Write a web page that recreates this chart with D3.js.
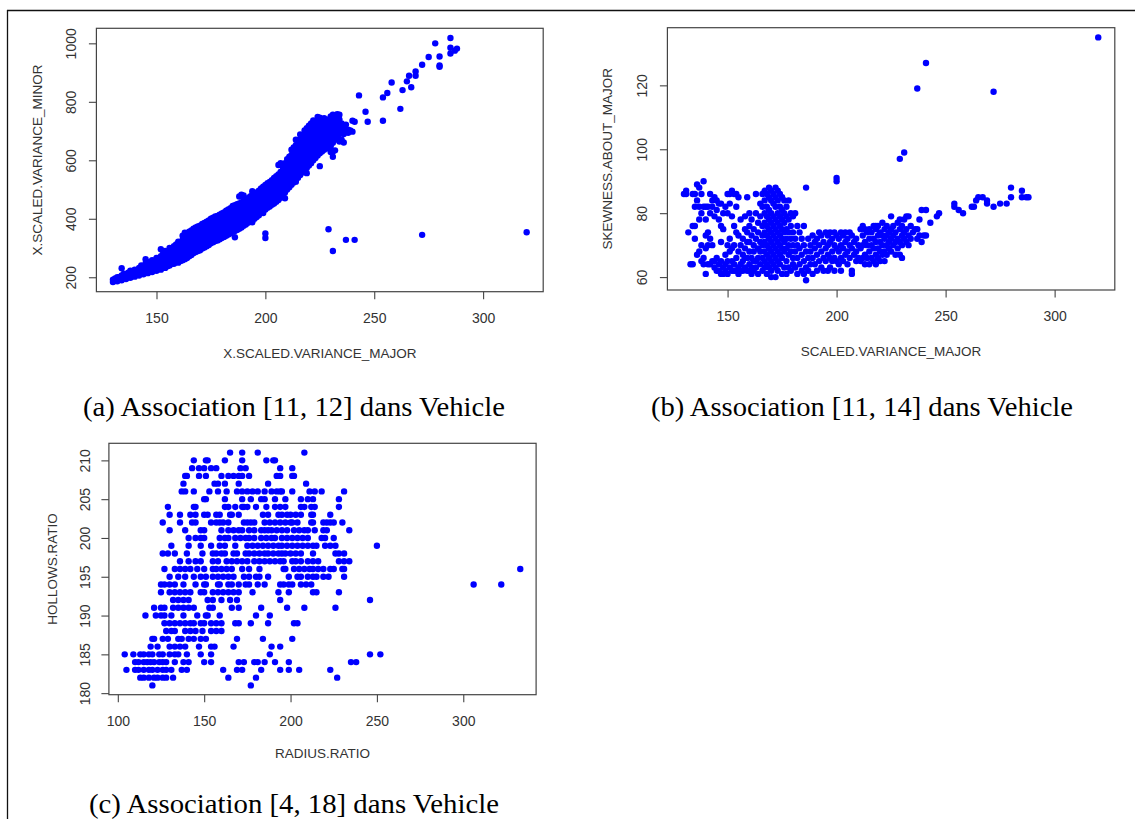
<!DOCTYPE html>
<html>
<head>
<meta charset="utf-8">
<script src="https://cdn.jsdelivr.net/npm/d3@7"></script>
<style>
  body { margin: 0; background: #fff; }
  .axis text { font-family: "Liberation Sans", Arial, sans-serif; font-size: 14px; fill: #333; }
  .axis line { stroke: #444; stroke-width: 1.1; }
  .axis path { display: none; }
  .lab { font-family: "Liberation Sans", Arial, sans-serif; font-size: 13.5px; fill: #333; }
  .cap { font-family: "Liberation Serif", "Times New Roman", serif; font-size: 27px; fill: #000; }
</style>
</head>
<body>
<svg id="fig" width="1135" height="819"></svg>
<script>
// ---- data ----
// (a) X.SCALED.VARIANCE_MAJOR -> list of X.SCALED.VARIANCE_MINOR
var majorMinor = [
  [130,[184,192]],[131,[188,196]],[132,[186,194,200]],[133,[192,200]],[134,[190,198,206,231]],
  [135,[196,204,212]],[136,[194,202,210]],[137,[200,208,216]],[138,[198,206,214,222]],[139,[204,212,220]],
  [140,[202,210,218,226]],[141,[208,216,224]],[142,[206,214,222,232]],[143,[212,220,230,240]],
  [144,[210,218,228,238]],[145,[216,226,236,248,262]],[146,[214,224,234,244]],[147,[220,230,240,252]],
  [148,[218,228,238,248,258]],[149,[224,234,244,256]],[150,[222,232,242,254,266]],[151,[228,238,250,262]],
  [152,[226,236,248,260,272,296]],[153,[232,244,256,268,280]],[154,[232,242,254,266,278,290]],
  [155,[238,250,262,274,286]],[156,[240,252,264,276,288,300]],[157,[246,258,270,282,294]],
  [158,[246,258,270,282,294,306]],[159,[252,264,276,288,300,312]],[160,[250,262,274,286,298,310,322]],
  [161,[256,268,280,292,304,316]],[162,[258,272,286,300,314,328,342]],[163,[262,276,290,304,318,332,352]],
  [164,[266,280,294,308,322,336,350]],[165,[272,286,300,314,328,342,356]],[166,[276,290,304,318,332,346,360]],
  [167,[282,296,310,324,338,352,366]],[168,[286,300,314,328,342,356,370]],[169,[290,304,318,332,346,360,374]],
  [170,[292,306,320,334,348,362,376]],[171,[298,312,326,340,354,368,382]],[172,[302,316,330,344,358,372,386]],
  [173,[306,320,334,348,362,376,390]],[174,[310,324,338,352,366,380,394]],[175,[316,330,344,358,372,386,400]],
  [176,[320,334,348,362,376,390,404]],[177,[324,338,352,366,380,394,408]],[178,[326,340,354,368,382,396,410]],
  [179,[330,344,358,372,386,400,414]],[180,[334,348,362,376,390,404,418]],[181,[338,352,366,380,394,408,422]],
  [182,[342,356,370,384,398,412,428]],[183,[346,360,374,388,402,416,432]],[184,[350,364,378,392,406,420,436]],
  [185,[356,370,384,398,412,426,444]],[186,[337,358,372,386,400,414,428,446]],[187,[362,376,390,404,418,432,450]],
  [188,[366,380,394,408,422,436,452,476]],[189,[370,384,398,412,426,440,456,482]],
  [190,[376,390,404,418,432,446,462,480]],[191,[380,394,408,422,436,450,466]],
  [192,[386,400,414,428,442,456,470]],[193,[390,404,418,432,446,460,476]],
  [194,[388,396,410,424,438,452,466,482,494]],[195,[400,414,428,442,456,470,486]],
  [196,[406,420,434,448,462,476,490]],[197,[412,426,440,454,468,482,496]],
  [198,[420,434,448,462,476,490,504]],[199,[420,426,440,454,468,482,496,510]],
  [200,[334,350,432,446,460,474,488,502,516]],[201,[438,452,466,480,494,508,522]],
  [202,[442,456,470,484,498,512,526]],[203,[448,462,476,490,504,518,532]],
  [204,[452,466,480,494,508,522,540]],[205,[458,472,486,500,514,528,546]],
  [206,[464,478,492,506,520,534,552,584]],[207,[472,486,500,514,528,542,560,590]],
  [208,[480,494,508,522,536,550,566,580]],[209,[470,490,504,518,532,546,560,574,590]],
  [210,[500,514,528,542,556,570,586,604]],[211,[508,522,536,550,564,578,594,612]],
  [212,[516,530,544,558,572,586,600,618,636]],[213,[524,538,552,566,580,594,608,626,644]],
  [214,[527,534,548,562,576,590,604,618,634,652,670]],[215,[540,554,568,582,596,610,626,644,662]],
  [216,[550,564,578,592,606,620,636,654,672,688]],[217,[558,572,586,600,614,628,644,662,680]],
  [218,[566,580,594,608,622,636,652,670,688,702]],[219,[556,574,588,602,616,630,644,660,678,696,710]],
  [220,[582,596,610,624,638,652,668,686,704,718]],[221,[590,604,618,632,646,660,676,694,712,726]],
  [222,[600,614,628,642,656,670,686,704,722,736]],[223,[608,622,636,650,664,678,694,712,730]],
  [224,[616,630,644,658,672,686,702,720,738,748]],[225,[580,624,638,652,666,680,696,714,732,746]],
  [226,[630,644,658,672,686,702,720,738]],[227,[636,650,664,678,694,712,730,744]],
  [228,[644,658,672,686,700,718,736]],[229,[364,640,654,668,684,702,720,740]],
  [230,[628,648,664,680,698,716,734,750]],[231,[290,612,630,660,676,694,712,730,756]],
  [232,[634,670,688,706,724,742]],[233,[680,700,718,736,758]],[234,[664,690,712,740,756]],
  [235,[670,708,726]],[236,[661,690,712]],[237,[328,700,722]],[238,[694,705]],[239,[702]],
  [240,[698,735]],[241,[328,732]],[243,[822]],[246,[766]],[247,[732]],[254,[735,815]],
  [256,[830]],[258,[866]],[262,[776]],[263,[840]],[265,[870]],[266,[889]],[267,[850]],
  [269,[889,904]],[272,[345,927]],[275,[953]],[278,[1000]],[280,[920,924,955]],
  [285,[965,985,1018]],[287,[975]],[288,[982]],[320,[354]]
];

// (b) SCALED.VARIANCE_MAJOR -> list of SKEWNESS.ABOUT_MAJOR
var majorSkew = [
  [130,[86]],[131,[86,87]],[132,[74]],[133,[64]],[134,[64,76,86]],[135,[72,76,82,86]],
  [136,[67,84,89]],[137,[68,78,82,88]],[138,[65,70,80,86]],[139,[64,66,82,90]],
  [140,[61,69,73,78,82]],[141,[64,70,74,82]],[142,[64,72,80,86]],[143,[65,70,82,84]],
  [144,[63,65,79,85]],[145,[62,66,81,84]],[146,[62,64,78,83]],[147,[61,65,71,76,83]],
  [148,[61,63,75,80]],[149,[62,64,67,82]],[150,[61,65,70,80,86]],[151,[63,68,72,83,86]],
  [152,[62,65,69,79,87]],[153,[62,64,70,76,86]],[154,[62,66,74,82,86]],[155,[61,63,68,73,85]],
  [156,[62,64,70,78]],[157,[62,65,67,72]],[158,[63,66,69,75,79]],[159,[62,66,71,74,85]],
  [160,[62,64,68,71,76,80]],[161,[61,63,66,73,78]],[162,[62,65,68,70,75]],[163,[63,65,72,80,86]],
  [164,[61,66,69,74,77]],[165,[64,68,71,79,83]],[166,[62,66,70,73,76,82,86]],
  [167,[63,65,68,71,74,77,80,84,87]],[168,[61,64,67,70,73,76,79,82,86]],
  [169,[63,66,69,72,75,78,81,85,88]],[170,[60,62,65,68,71,74,77,80,84,87]],
  [171,[64,67,70,73,76,79,83,86]],[172,[60,63,66,69,72,75,78,82,85,88]],
  [173,[62,65,68,71,74,77,80,84,87]],[174,[64,67,70,73,76,79,82,86]],
  [175,[61,66,69,72,75,78,81,85]],[176,[63,68,71,74,77,80,84]],[177,[61,65,69,72,75,79,82]],
  [178,[63,67,70,74,78,84]],[179,[62,68,72,76,80]],[180,[64,66,70,74,79]],[181,[63,68,72,80]],
  [182,[61,66,70,76]],[183,[64,69,74]],[184,[62,67,72]],[185,[61,65,70,76]],[186,[59,63,68,88]],
  [187,[62,66,72]],[188,[64,68,70]],[189,[61,66,73]],[190,[64,69,71]],[191,[62,67,72]],
  [192,[65,70,74]],[193,[63,68,73]],[194,[62,66,71]],[195,[65,69,74]],[196,[62,67,70,73]],
  [197,[63,66,71,74]],[198,[65,68,72]],[199,[62,66,70,74]],[200,[65,69,73,90,91]],
  [201,[64,68,72]],[202,[62,66,70,74]],[203,[65,69,73]],[204,[67,71,74]],[205,[64,68,72]],
  [206,[66,70,74]],[207,[61,62,69,73]],[208,[67,71]],[209,[65,68,72]],[210,[66,70]],
  [211,[65,69,75]],[212,[66,70,73,76]],[213,[64,67,71,75]],[214,[66,70,74]],[215,[64,68,72,75]],
  [216,[66,70,74]],[217,[65,69,72,76]],[218,[64,67,71,75,76]],[219,[66,69,73,76]],
  [220,[65,68,71,74]],[221,[67,70,73,77]],[222,[65,68,72,75]],[223,[67,70,73,76]],
  [224,[69,71,74]],[225,[68,72,75,79]],[226,[70,73,76]],[227,[67,71,74]],[228,[69,72,77]],
  [229,[67,71,75,78,97]],[230,[66,70,73,76]],[231,[72,74,78,99]],[232,[71,75,79]],
  [233,[70,73,79]],[234,[72,76]],[235,[74]],[236,[75]],[237,[72,75,119]],[238,[73,78]],
  [239,[71,81]],[240,[73]],[241,[73,81,127]],[243,[77]],[246,[79]],[247,[80]],[254,[82,83]],
  [256,[81]],[258,[80]],[262,[82]],[263,[82]],[264,[84]],[265,[85]],[267,[85]],[269,[83,84]],
  [272,[82,118]],[275,[83]],[278,[83]],[280,[85,88]],[285,[85,87]],[287,[85]],[288,[85]],
  [320,[135]]
];

// (c) HOLLOWS.RATIO -> list of RADIUS.RATIO
var hollowsRadius = [
  [211,[165,172,181,208]],
  [210,[144,151,152,162,172,186,190,191]],
  [209,[143,147,150,154,157,171,174,194,201]],
  [208,[139,140,147,151,160,164,167,170,172,176,192,194,201,202]],
  [207,[138,156,158,162,170,187,209]],
  [206,[137,139,144,153,158,163,169,172,175,178,181,185,189,192,194,195,201,211,214,218,231]],
  [205,[150,151,162,172,177,183,185,191,197,206,210,213,228]],
  [204,[129,144,145,162,164,168,172,173,175,180,186,191,194,197,206,208,212,214,228]],
  [203,[130,136,142,145,150,152,157,159,165,166,170,184,187,193,195,198,200,203,206,212,213,223]],
  [202,[126,136,143,145,154,157,159,161,164,173,175,177,179,185,188,191,194,197,200,201,204,212,213,219,221,223,225,230]],
  [201,[130,139,148,150,160,164,167,170,172,176,179,183,185,187,189,192,195,198,202,205,208,210,214,219,221,234]],
  [200,[141,145,148,150,159,162,164,168,171,174,176,179,183,186,189,191,195,198,201,204,207,210,218,220,225]],
  [199,[131,141,148,154,159,162,168,175,178,181,184,187,190,193,195,198,201,204,207,210,213,215,220,223,226,250]],
  [198,[126,129,133,140,149,155,157,160,162,167,169,174,176,179,182,185,187,190,193,195,197,200,203,206,213,226,228,231]],
  [197,[136,141,145,148,155,158,163,166,169,172,175,179,182,185,188,191,194,196,201,203,206,210,213,216,228,231,234]],
  [196,[127,133,136,139,142,146,150,155,157,160,163,166,172,176,182,196,197,202,205,208,211,213,216,219,223,225,230,231,333]],
  [195,[130,135,139,144,148,151,155,158,161,164,167,173,176,180,182,187,199,204,206,210,213,215,219,222,231]],
  [194,[125,127,130,133,138,145,150,151,158,159,164,166,170,174,176,181,185,194,196,199,201,206,209,212,306,322]],
  [193,[125,130,133,136,139,142,148,150,155,158,161,164,167,170,178,193,199,213,215,228]],
  [192,[132,135,138,141,152,155,160,165,169,194,246]],
  [191,[121,125,127,132,135,138,141,144,153,155,166,170,183,198,208,226]],
  [190,[116,122,125,127,131,138,146,151,152,159,180,188]],
  [189,[127,130,133,136,139,142,144,148,150,154,157,160,168,170,177,187,202,204]],
  [188,[128,131,133,139,142,145,149,154,157,160]],
  [187,[120,121,126,129,135,137,141,144,148,151,169,184,201]],
  [186,[119,123,130,133,136,139,147,154,156,167,189,194]],
  [185,[104,109,113,115,118,120,124,126,130,133,135,140,148,154,188,246,252]],
  [184,[110,112,115,117,119,121,124,126,128,133,138,141,150,154,170,173,179,181,185,191,199,235,238]],
  [183,[105,110,112,115,118,120,123,126,128,131,137,140,161,169,172,183,194,199,205,223]],
  [182,[113,115,118,121,123,126,128,132,164,180,227]],
  [181,[120,177]]
];

var ticksMajor = [150, 200, 250, 300];
var ticksMinor = [200, 400, 600, 800, 1000];
var ticksSkew = [60, 80, 100, 120];
var ticksRadius = [100, 150, 200, 250, 300];
var ticksHollows = [180, 185, 190, 195, 200, 205, 210];

var captions = [
  "(a) Association [11, 12] dans Vehicle",
  "(b) Association [11, 14] dans Vehicle",
  "(c) Association [4, 18] dans Vehicle"
];

// ---- drawing ----
var svg = d3.select("#fig");

// page frame (top and left rules)
svg.append("line").attr("x1", 7).attr("x2", 1135).attr("y1", 10.5).attr("y2", 10.5)
  .attr("stroke", "#111").attr("stroke-width", 1.3);
svg.append("line").attr("x1", 7.5).attr("x2", 7.5).attr("y1", 10).attr("y2", 819)
  .attr("stroke", "#111").attr("stroke-width", 1.3);

function pairs(groups) {
  var out = [];
  groups.forEach(function(g) { g[1].forEach(function(v) { out.push([g[0], v]); }); });
  return out;
}
function flipped(groups) {
  var out = [];
  groups.forEach(function(g) { g[1].forEach(function(v) { out.push([v, g[0]]); }); });
  return out;
}

function scatter(c) {
  var x = d3.scaleLinear().domain(c.xDom).range([c.x0, c.x1]);
  var y = d3.scaleLinear().domain(c.yDom).range([c.y1, c.y0]);
  var g = svg.append("g");

  g.selectAll("circle").data(c.points).enter().append("circle")
    .attr("cx", function(d) { return x(d[0]); })
    .attr("cy", function(d) { return y(d[1]); })
    .attr("r", 3.2)
    .attr("fill", "#0000ff");

  g.append("rect")
    .attr("x", c.x0).attr("y", c.y0)
    .attr("width", c.x1 - c.x0).attr("height", c.y1 - c.y0)
    .attr("fill", "none").attr("stroke", "#444").attr("stroke-width", 1.2);

  var xa = g.append("g").attr("class", "axis")
    .attr("transform", "translate(0," + c.y1 + ")")
    .call(d3.axisBottom(x).tickValues(c.xTicks).tickSize(7.5).tickPadding(14).tickFormat(d3.format("d")));
  xa.selectAll("text").attr("dy", "0.71em");

  var ya = g.append("g").attr("class", "axis")
    .attr("transform", "translate(" + c.x0 + ",0)")
    .call(d3.axisLeft(y).tickValues(c.yTicks).tickSize(7.5).tickFormat(d3.format("d")));
  ya.selectAll("text")
    .attr("x", 0).attr("y", 0).attr("dy", "0.35em")
    .attr("text-anchor", "middle")
    .attr("transform", "translate(" + (-c.yTickOff) + ",0) rotate(-90)");

  g.append("text").attr("class", "lab")
    .attr("x", (c.x0 + c.x1) / 2).attr("y", c.xLabY)
    .attr("text-anchor", "middle").attr("dy", "0.35em")
    .text(c.xLab);

  g.append("text").attr("class", "lab")
    .attr("text-anchor", "middle").attr("dy", "0.35em")
    .attr("transform", "translate(" + c.yLabX + "," + ((c.y0 + c.y1) / 2) + ") rotate(-90)")
    .text(c.yLab);
}

scatter({
  points: pairs(majorMinor),
  x0: 96.4, x1: 543.2, y0: 28.3, y1: 291.7,
  xDom: [122.4, 327.6], yDom: [150.6, 1051.4],
  xTicks: ticksMajor, yTicks: ticksMinor, yTickOff: 25,
  xLab: "X.SCALED.VARIANCE_MAJOR", xLabY: 353.3,
  yLab: "X.SCALED.VARIANCE_MINOR", yLabX: 37.5
});

scatter({
  points: pairs(majorSkew),
  x0: 667.4, x1: 1114.8, y0: 27.7, y1: 290,
  xDom: [122.4, 327.6], yDom: [55.96, 138.04],
  xTicks: ticksMajor, yTicks: ticksSkew, yTickOff: 25,
  xLab: "SCALED.VARIANCE_MAJOR", xLabY: 351.7,
  yLab: "SKEWNESS.ABOUT_MAJOR", yLabX: 607.7
});

scatter({
  points: flipped(hollowsRadius),
  x0: 108.9, x1: 536.1, y0: 443.3, y1: 694.7,
  xDom: [94.84, 342.16], yDom: [179.8, 212.2],
  xTicks: ticksRadius, yTicks: ticksHollows, yTickOff: 24,
  xLab: "RADIUS.RATIO", xLabY: 753.3,
  yLab: "HOLLOWS.RATIO", yLabX: 51.8
});

// captions
var capPos = [[294, 416], [862, 416], [294, 813]];
svg.selectAll("text.cap").data(captions).enter().append("text")
  .attr("class", "cap")
  .attr("x", function(d, i) { return capPos[i][0]; })
  .attr("y", function(d, i) { return capPos[i][1]; })
  .attr("text-anchor", "middle")
  .attr("textLength", function(d, i) { return i === 2 ? 410 : 422; })
  .attr("lengthAdjust", "spacingAndGlyphs")
  .text(function(d) { return d; });
</script>
</body>
</html>
